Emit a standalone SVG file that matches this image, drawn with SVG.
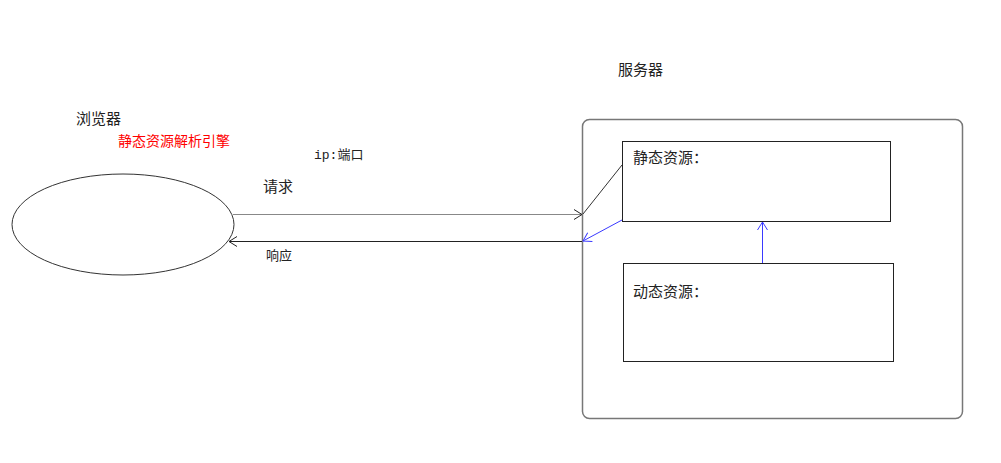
<svg xmlns="http://www.w3.org/2000/svg" width="1001" height="463" viewBox="0 0 1001 463">
<style>
.t{font-family:"Noto Sans CJK SC","Liberation Sans",sans-serif;fill:#222;}
.box{fill:#fff;stroke:#222;stroke-width:1;}
</style>
<defs>
<marker id="ab" markerWidth="12" markerHeight="12" refX="10" refY="6" orient="auto" markerUnits="userSpaceOnUse"><path d="M2,1 L10,6 L2,11" fill="none" stroke="#222" stroke-width="1"/></marker>
<marker id="ablue" markerWidth="12" markerHeight="12" refX="10" refY="6" orient="auto" markerUnits="userSpaceOnUse"><path d="M2,1 L10,6 L2,11" fill="none" stroke="#3a3aff" stroke-width="1"/></marker>
</defs>
<rect width="1001" height="463" fill="#fff"/>
<g id="browser">
<ellipse cx="123" cy="224.5" rx="111" ry="50.5" fill="#fff" stroke="#333" stroke-width="1"/>
<text class="t" x="76" y="124" font-size="15">浏览器</text>
<text x="118" y="146" font-size="14" fill="#f00" font-family="Noto Sans CJK SC, sans-serif">静态资源解析引擎</text>
</g>
<g id="server">
<rect x="582.5" y="119.5" width="380" height="299" rx="7" fill="#fff" stroke="#777" stroke-width="1.5"/>
<text class="t" x="618" y="75" font-size="15">服务器</text>
</g>
<g id="static">
<rect class="box" x="622.5" y="141.5" width="268" height="80"/>
<text class="t" x="633" y="163" font-size="15">静态资源：</text>
</g>
<g id="dynamic">
<rect class="box" x="623.5" y="263.5" width="270" height="98"/>
<text class="t" x="633" y="297" font-size="15">动态资源：</text>
</g>
<g id="connectors">
<line x1="233" y1="214.5" x2="582" y2="214.5" stroke="#888" stroke-width="1.2" marker-end="url(#ab)"/>
<line x1="622" y1="165" x2="583" y2="214" stroke="#333" stroke-width="1"/>
<line x1="582" y1="241.5" x2="229" y2="241.5" stroke="#222" stroke-width="1" marker-end="url(#ab)"/>
<line x1="622" y1="220" x2="583" y2="241" stroke="#3a3aff" stroke-width="1" marker-end="url(#ablue)"/>
<line x1="762.5" y1="263" x2="762.5" y2="222" stroke="#3a3aff" stroke-width="1" marker-end="url(#ablue)"/>
<text x="314" y="159" font-size="13" font-family="Liberation Mono, Noto Sans CJK SC, monospace" fill="#222">ip:端口</text>
<text class="t" x="263" y="192" font-size="15">请求</text>
<text class="t" x="266" y="260" font-size="13">响应</text>
</g>
</svg>
